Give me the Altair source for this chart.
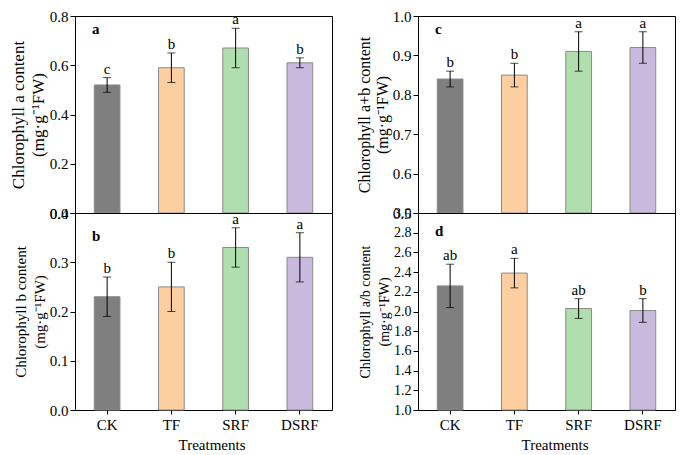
import altair as alt
import pandas as pd

treatments = ["CK", "TF", "SRF", "DSRF"]
colors = ["#7f7f7f", "#fdcfa0", "#b0deae", "#c9b9dd"]

chl_a = [0.52, 0.59, 0.67, 0.61]
chl_a_err = [0.03, 0.06, 0.08, 0.02]
chl_a_sig = ["c", "b", "a", "b"]

chl_b = [0.23, 0.25, 0.33, 0.31]
chl_b_err = [0.04, 0.05, 0.04, 0.05]
chl_b_sig = ["b", "b", "a", "a"]

chl_ab = [0.84, 0.85, 0.91, 0.92]
chl_ab_err = [0.02, 0.03, 0.05, 0.04]
chl_ab_sig = ["b", "b", "a", "a"]

chl_ratio = [2.26, 2.39, 2.03, 2.01]
chl_ratio_err = [0.22, 0.15, 0.10, 0.12]
chl_ratio_sig = ["ab", "a", "ab", "b"]

FONT = "Liberation Serif"
W = 257
H = 197


def panel(vals, errs, sigs, domain, ticks, ytitle, title_size, line_h, label_size,
          letter, letter_y, show_x):
    df = pd.DataFrame({
        "Treatment": treatments,
        "value": vals,
        "lo": [v - e for v, e in zip(vals, errs)],
        "hi": [v + e for v, e in zip(vals, errs)],
        "sig": sigs,
    })
    if show_x:
        xaxis = alt.Axis(title="Treatments", labelAngle=0, labelFontSize=15,
                         titleFontSize=15, labelFont=FONT, titleFont=FONT,
                         titleFontWeight="normal", tickSize=4, labelPadding=3,
                         titlePadding=5, titleX=W / 2 + 8, domainColor="black",
                         tickColor="black", labelColor="black", titleColor="black")
    else:
        xaxis = None
    x = alt.X("Treatment:N", sort=treatments,
              scale=alt.Scale(paddingInner=0.6, paddingOuter=0.3),
              axis=xaxis)
    yscale = alt.Scale(domain=domain, zero=False, nice=False)
    yaxis = alt.Axis(title=ytitle, values=ticks, tickCount=len(ticks),
                     format=".1f", grid=False,
                     labelFontSize=label_size, titleFontSize=title_size,
                     titleLineHeight=line_h,
                     labelFont=FONT, titleFont=FONT, titleFontWeight="normal",
                     tickSize=5, labelPadding=2, titlePadding=2,
                     labelFlush=False, labelOverlap=False,
                     domainColor="black", tickColor="black",
                     labelColor="black", titleColor="black")
    base = alt.Chart(df)
    bars = base.mark_bar(stroke="#8a8a8a", strokeWidth=1).encode(
        x=x,
        y=alt.Y("value:Q", scale=yscale, axis=yaxis),
        y2=alt.datum(domain[0]),
        color=alt.Color("Treatment:N", scale=alt.Scale(domain=treatments, range=colors),
                        legend=None),
    )
    rules = base.mark_rule(color="black", strokeWidth=1).encode(
        x=alt.X("Treatment:N", sort=treatments), y="lo:Q", y2="hi:Q")
    caps_hi = base.mark_tick(color="black", size=8, thickness=1).encode(
        x=alt.X("Treatment:N", sort=treatments), y="hi:Q")
    caps_lo = base.mark_tick(color="black", size=8, thickness=1).encode(
        x=alt.X("Treatment:N", sort=treatments), y="lo:Q")
    sig = base.mark_text(font=FONT, fontSize=15, baseline="bottom", dy=-1,
                         color="black").encode(
        x=alt.X("Treatment:N", sort=treatments), y="hi:Q", text="sig:N")
    lab = alt.Chart(pd.DataFrame({"t": [letter]})).mark_text(
        font=FONT, fontSize=15, fontWeight="bold", align="left",
        baseline="middle", color="black").encode(
        x=alt.value(17), y=alt.value(letter_y), text="t:N")
    return alt.layer(bars, rules, caps_hi, caps_lo, sig, lab).properties(
        width=W, height=H)


sup = "(mg\u00b7g\u207b\u00b9FW)"
pa = panel(chl_a, chl_a_err, chl_a_sig, [0, 0.8], [0, 0.2, 0.4, 0.6, 0.8],
           ["Chlorophyll a content", sup], 17, 20, 15, "a", 13, False)
pb = panel(chl_b, chl_b_err, chl_b_sig, [0, 0.4], [0, 0.1, 0.2, 0.3, 0.4],
           ["Chlorophyll b content", sup], 15, 19, 15, "b", 23, True)
pc = panel(chl_ab, chl_ab_err, chl_ab_sig, [0.5, 1.0], [0.5, 0.6, 0.7, 0.8, 0.9, 1.0],
           ["Chlorophyll a+b content", sup], 16, 18, 15, "c", 13, False)
pd_ = panel(chl_ratio, chl_ratio_err, chl_ratio_sig, [1.0, 3.0],
            [1.0, 1.2, 1.4, 1.6, 1.8, 2.0, 2.2, 2.4, 2.6, 2.8, 3.0],
            ["Chlorophyll a/b content", sup], 14, 19, 14, "d", 18, True)

left = alt.vconcat(pa, pb, spacing=0, bounds="flush")
right = alt.vconcat(pc, pd_, spacing=0, bounds="flush")
chart = alt.hconcat(left, right, spacing=22).properties(padding=0).configure_view(
    stroke="black", strokeWidth=1)

chart.save("out.html", embed_options={"renderer": "svg", "actions": False})
